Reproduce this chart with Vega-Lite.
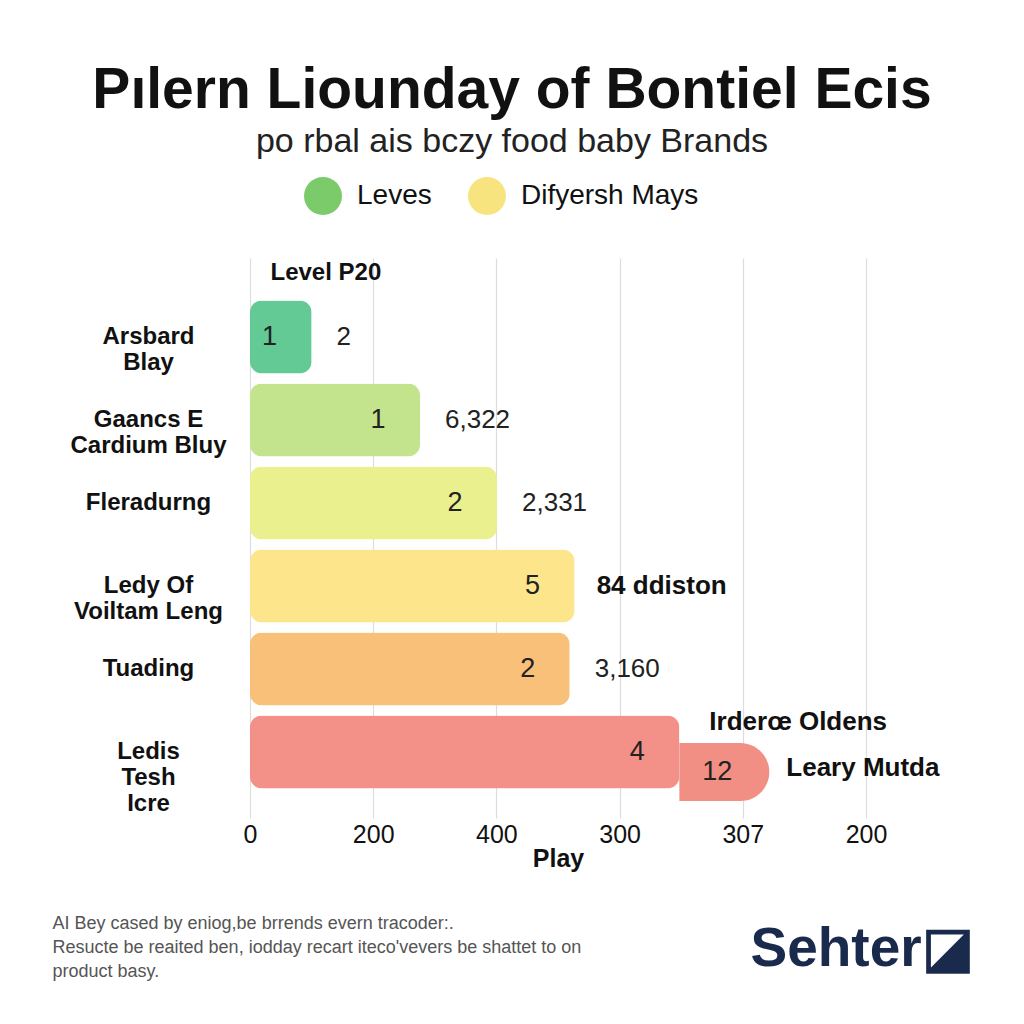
{
  "$schema": "https://vega.github.io/schema/vega-lite/v6.json",
  "width": 616,
  "height": 560,
  "autosize": {"type": "none"},
  "padding": {"left": 250, "top": 258, "right": 158, "bottom": 206},
  "background": "white",
  "title": {
    "text": "Pılern Liounday of Bontiel Ecis",
    "subtitle": "po rbal ais bczy food baby Brands",
    "anchor": "middle",
    "frame": "group",
    "dx": -46,
    "offset": 17,
    "font": "Liberation Sans",
    "fontSize": 57,
    "fontWeight": "bold",
    "color": "#111111",
    "subtitleFont": "Liberation Sans",
    "subtitleFontSize": 34,
    "subtitleColor": "#222222",
    "subtitlePadding": 5
  },
  "config": {
    "view": {"stroke": null},
    "axis": {"labelFont": "Liberation Sans", "titleFont": "Liberation Sans"},
    "legend": {"labelFont": "Liberation Sans"}
  },
  "datasets": {
    "brands": [
      {"brand": "Arsbard|Blay", "play": 100, "inner": "1", "outer": "2"},
      {"brand": "Gaancs E|Cardium Bluy", "play": 276, "inner": "1", "outer": "6,322"},
      {"brand": "Fleradurng", "play": 401, "inner": "2", "outer": "2,331"},
      {"brand": "Ledy Of|Voiltam Leng", "play": 527, "inner": "5", "outer": "84 ddiston"},
      {"brand": "Tuading", "play": 519, "inner": "2", "outer": "3,160"},
      {"brand": "Ledis|Tesh|Icre", "play": 697, "inner": "4", "outer": "Irderœ Oldens"}
    ],
    "ext": [
      {"brand": "Ledis|Tesh|Icre", "start": 697, "play": 843, "inner": "12", "outer": "Leary Mutda"}
    ],
    "series": [
      {"series": "Leves"},
      {"series": "Difyersh Mays"}
    ]
  },
  "layer": [
    {
      "data": {"name": "brands"},
      "mark": {"type": "bar", "cornerRadius": 12},
      "encoding": {
        "y": {
          "field": "brand",
          "type": "nominal",
          "sort": null,
          "scale": {
            "domain": ["Arsbard|Blay", "Gaancs E|Cardium Bluy", "Fleradurng", "Ledy Of|Voiltam Leng", "Tuading", "Ledis|Tesh|Icre"],
            "paddingInner": 0.12,
            "paddingOuter": 0.434,
            "align": 0.59
          },
          "axis": {
            "title": null,
            "domain": false,
            "ticks": false,
            "tickSize": 0,
            "labelAlign": "center",
            "labelBaseline": "middle",
            "labelPadding": 102,
            "labelFontSize": 24,
            "labelFontWeight": "bold",
            "labelColor": "#111111",
            "labelLineHeight": 26,
            "labelExpr": "split(datum.label, '|')"
          }
        },
        "x": {
          "field": "play",
          "type": "quantitative",
          "scale": {"domain": [0, 1000], "nice": false},
          "axis": {
            "values": [0, 200, 400, 600, 800, 1000],
            "labelExpr": "datum.value == 600 ? '300' : datum.value == 800 ? '307' : datum.value == 1000 ? '200' : datum.label",
            "grid": true,
            "gridColor": "#dddddd",
            "gridWidth": 1.2,
            "domain": false,
            "ticks": false,
            "tickSize": 0,
            "labelPadding": 4,
            "labelFontSize": 25,
            "labelColor": "#111111",
            "labelFlush": false,
            "title": "Play",
            "titleFontSize": 25,
            "titleFontWeight": "bold",
            "titleColor": "#111111",
            "titleY": 40,
            "titleBaseline": "middle"
          }
        },
        "color": {
          "field": "brand",
          "type": "nominal",
          "scale": {
            "domain": ["Arsbard|Blay", "Gaancs E|Cardium Bluy", "Fleradurng", "Ledy Of|Voiltam Leng", "Tuading", "Ledis|Tesh|Icre"],
            "range": ["#63c995", "#c3e38c", "#ebf08f", "#fde58c", "#f8c078", "#f39088"]
          },
          "legend": null
        }
      }
    },
    {
      "data": {"name": "ext"},
      "mark": {"type": "bar", "color": "#f28f85", "height": 58, "yOffset": 20, "cornerRadiusTopRight": 29, "cornerRadiusBottomRight": 29},
      "encoding": {
        "y": {"field": "brand", "type": "nominal", "axis": null},
        "x": {"field": "start", "type": "quantitative", "scale": {"domain": [0, 1000], "nice": false}, "axis": null},
        "x2": {"field": "play"}
      }
    },
    {
      "data": {"name": "brands"},
      "mark": {"type": "text", "align": "center", "baseline": "middle", "dx": -42, "fontSize": 27, "font": "Liberation Sans", "color": "#222222"},
      "encoding": {
        "y": {"field": "brand", "type": "nominal", "axis": null},
        "x": {
          "field": "play",
          "type": "quantitative",
          "scale": {"domain": [0, 1000], "nice": false},
          "axis": {
            "orient": "top",
            "labels": false,
            "ticks": false,
            "domain": false,
            "grid": false,
            "title": "Level P20",
            "titleFontSize": 24,
            "titleFontWeight": "bold",
            "titleColor": "#111111",
            "titleX": 20,
            "titleY": 14,
            "titleAlign": "left",
            "titleBaseline": "middle",
            "titleAnchor": "start"
          }
        },
        "text": {"field": "inner"}
      }
    },
    {
      "data": {"name": "ext"},
      "mark": {"type": "text", "align": "center", "baseline": "middle", "dx": -52, "dy": 20, "fontSize": 27, "font": "Liberation Sans", "color": "#222222"},
      "encoding": {
        "y": {"field": "brand", "type": "nominal", "axis": null},
        "x": {"field": "play", "type": "quantitative", "scale": {"domain": [0, 1000], "nice": false}, "axis": null},
        "text": {"field": "inner"}
      }
    },
    {
      "data": {"name": "brands"},
      "transform": [{"filter": "datum.brand != 'Ledy Of|Voiltam Leng' && datum.brand != 'Ledis|Tesh|Icre'"}],
      "mark": {"type": "text", "align": "left", "baseline": "middle", "dx": 25, "fontSize": 26, "font": "Liberation Sans", "color": "#222222"},
      "encoding": {
        "y": {
          "field": "brand",
          "type": "nominal",
          "axis": {
            "orient": "right",
            "labels": false,
            "ticks": false,
            "domain": false,
            "grid": false,
            "title": "Sehter◪",
            "titleFont": "Liberation Sans",
            "titleFontSize": 55,
            "titleFontWeight": "bold",
            "titleColor": "#1a2a4c",
            "titleAngle": 0,
            "titleX": -116,
            "titleY": 690,
            "titleAlign": "left",
            "titleBaseline": "middle"
          }
        },
        "x": {
          "field": "play",
          "type": "quantitative",
          "scale": {"domain": [0, 1000], "nice": false},
          "axis": {
            "orient": "bottom",
            "labels": false,
            "ticks": false,
            "domain": false,
            "grid": false,
            "title": ["AI Bey cased by eniog,be brrends evern tracoder:.", "Resucte be reaited ben, iodday recart iteco'vevers be shattet to on", "product basy."],
            "titleFont": "Liberation Sans",
            "titleFontSize": 18,
            "titleFontWeight": "normal",
            "titleColor": "#555555",
            "titleLineHeight": 24,
            "titleX": -198,
            "titleY": 96,
            "titleAlign": "left",
            "titleBaseline": "top",
            "titleAnchor": "start"
          }
        },
        "text": {"field": "outer"}
      }
    },
    {
      "data": {"name": "brands"},
      "transform": [{"filter": "datum.brand == 'Ledy Of|Voiltam Leng'"}],
      "mark": {"type": "text", "align": "left", "baseline": "middle", "dx": 22, "fontSize": 26, "fontWeight": "bold", "font": "Liberation Sans", "color": "#111111"},
      "encoding": {
        "y": {"field": "brand", "type": "nominal", "axis": null},
        "x": {"field": "play", "type": "quantitative", "scale": {"domain": [0, 1000], "nice": false}, "axis": null},
        "text": {"field": "outer"}
      }
    },
    {
      "data": {"name": "brands"},
      "transform": [{"filter": "datum.brand == 'Ledis|Tesh|Icre'"}],
      "mark": {"type": "text", "align": "left", "baseline": "middle", "dx": 30, "dy": -30, "fontSize": 26, "fontWeight": "bold", "font": "Liberation Sans", "color": "#111111"},
      "encoding": {
        "y": {"field": "brand", "type": "nominal", "axis": null},
        "x": {"field": "play", "type": "quantitative", "scale": {"domain": [0, 1000], "nice": false}, "axis": null},
        "text": {"field": "outer"}
      }
    },
    {
      "data": {"name": "ext"},
      "mark": {"type": "text", "align": "left", "baseline": "middle", "dx": 17, "dy": 16, "fontSize": 26, "fontWeight": "bold", "font": "Liberation Sans", "color": "#111111"},
      "encoding": {
        "y": {"field": "brand", "type": "nominal", "axis": null},
        "x": {"field": "play", "type": "quantitative", "scale": {"domain": [0, 1000], "nice": false}, "axis": null},
        "text": {"field": "outer"}
      }
    },
    {
      "data": {"name": "series"},
      "mark": {"type": "point", "filled": true, "size": 0, "opacity": 0},
      "encoding": {
        "fill": {
          "field": "series",
          "type": "nominal",
          "scale": {"domain": ["Leves", "Difyersh Mays"], "range": ["#7ccb6b", "#f8e47e"]},
          "legend": {
            "orient": "none",
            "legendX": 54,
            "legendY": -81,
            "direction": "horizontal",
            "columns": 2,
            "title": null,
            "symbolType": "circle",
            "symbolSize": 1444,
            "symbolOpacity": 1,
            "symbolStrokeWidth": 0,
            "labelFontSize": 28,
            "labelFontWeight": 500,
            "labelLimit": 400,
            "labelColor": "#111111",
            "labelOffset": 15,
            "columnPadding": 36
          }
        }
      }
    }
  ],
  "resolve": {"axis": {"x": "independent", "y": "independent"}}
}
